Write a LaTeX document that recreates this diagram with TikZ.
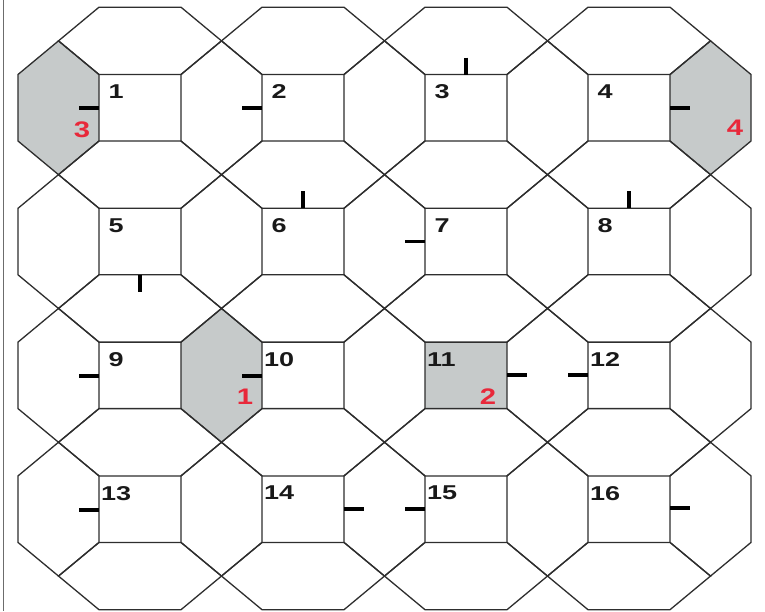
\documentclass[tikz,border=0pt]{standalone}
\usepackage{fontspec}
\setmainfont{Liberation Sans}
\definecolor{edge}{HTML}{2E2E2E}
\definecolor{cellgray}{HTML}{C6CACA}
\definecolor{redlbl}{RGB}{232,40,58}
\begin{document}
\begin{tikzpicture}[x=1pt,y=-1pt,
  grid/.style={draw=edge,line width=1.3pt,line join=miter},
  door/.style={draw=black,line width=3.8pt},
  num/.style={anchor=north west,inner sep=0pt,font=\fontsize{20}{21}\selectfont\bfseries,text=black!90},
  rnum/.style={inner sep=0pt,font=\fontsize{22.5}{23}\selectfont\bfseries,text=redlbl}]
\useasboundingbox (0,0) rectangle (765,611);
\fill[white] (0,0) rectangle (765,611);
% shaded cells
\fill[cellgray] (18,74.5) -- (58.5,40.85) -- (99,74.5) -- (99,141) -- (58.5,174.65) -- (18,141) -- cycle;
\fill[cellgray] (670,74.5) -- (710.5,40.85) -- (751,74.5) -- (751,141) -- (710.5,174.65) -- (670,141) -- cycle;
\fill[cellgray] (181,342.1) -- (221.5,308.45) -- (262,342.1) -- (262,408.6) -- (221.5,442.25) -- (181,408.6) -- cycle;
\fill[cellgray] (425,342.1) rectangle (507,408.6);
% horizontal cells (between columns)
\foreach \c in {0,...,4}{
  \foreach \r in {1,...,4}{
    \pgfmathsetmacro\xa{99+163*(\c-1)+82}
    \pgfmathsetmacro\xb{\xa+81}
    \pgfmathsetmacro\xm{\xa+40.5}
    \pgfmathsetmacro\ya{74.5+133.8*(\r-1)}
    \pgfmathsetmacro\yb{\ya+66.5}
    \draw[grid] (\xa,\ya) -- (\xm,\ya-33.65) -- (\xb,\ya) -- (\xb,\yb) -- (\xm,\yb+33.65) -- (\xa,\yb) -- cycle;
  }
}
% vertical cells (between rows)
\foreach \c in {1,...,4}{
  \foreach \r in {0,...,4}{
    \pgfmathsetmacro\xa{99+163*(\c-1)}
    \pgfmathsetmacro\xb{\xa+82}
    \pgfmathsetmacro\ya{74.5+133.8*(\r-1)+66.5}
    \pgfmathsetmacro\yb{\ya+67.3}
    \draw[grid] (\xa,\ya) -- (\xb,\ya) -- (\xb+40.5,\ya+33.65) -- (\xb,\yb) -- (\xa,\yb) -- (\xa-40.5,\ya+33.65) -- cycle;
  }
}
% left frame line
\draw[draw=gray!85!black,line width=1pt] (3,0) -- (3,611);
% doors
\draw[door] (79,107.75) -- (99,107.75);
\draw[door] (242,107.75) -- (262,107.75);
\draw[door] (466,57.5) -- (466,74.5);
\draw[door] (670,107.75) -- (690,107.75);
\draw[door] (140,274.8) -- (140,292);
\draw[door] (303,191.3) -- (303,208.3);
\draw[door] (405,241.55) -- (425,241.55);
\draw[door] (629,191.3) -- (629,208.3);
\draw[door] (79,376) -- (99,376);
\draw[door] (242,376) -- (262,376);
\draw[door] (507,375) -- (527,375);
\draw[door] (568,375) -- (588,375);
\draw[door] (79,510) -- (99,510);
\draw[door] (344,509.15) -- (364,509.15);
\draw[door] (405,509.15) -- (425,509.15);
\draw[door] (670,508) -- (690,508);
% room numbers
\node[num] (n1) at (108.5,84.5) {\scalebox{1.35}[1]{1}};
\node[num] (n2) at (271.5,84.5) {\scalebox{1.35}[1]{2}};
\node[num] (n3) at (434.5,84.5) {\scalebox{1.35}[1]{3}};
\node[num] (n4) at (597.5,84.5) {\scalebox{1.35}[1]{4}};
\node[num] (n5) at (108.5,218.3) {\scalebox{1.35}[1]{5}};
\node[num] (n6) at (271.5,218.3) {\scalebox{1.35}[1]{6}};
\node[num] (n7) at (434.5,218.3) {\scalebox{1.35}[1]{7}};
\node[num] (n8) at (597.5,218.3) {\scalebox{1.35}[1]{8}};
\node[num] (n9) at (108.5,352.1) {\scalebox{1.35}[1]{9}};
\node[num] (n10) at (264,352.1) {\scalebox{1.35}[1]{10}};
\node[num] (n11) at (427,352.1) {\scalebox{1.35}[1]{11}};
\node[num] (n12) at (590,352.1) {\scalebox{1.35}[1]{12}};
\node[num] (n13) at (101,485.9) {\scalebox{1.35}[1]{13}};
\node[num] (n14) at (264,485.9) {\scalebox{1.35}[1]{14}};
\node[num] (n15) at (427,485.9) {\scalebox{1.35}[1]{15}};
\node[num] (n16) at (590,485.9) {\scalebox{1.35}[1]{16}};
% red markers
\node[rnum] (r3) at (82,130) {\scalebox{1.3}[1]{3}};
\node[rnum] (r4) at (735,128) {\scalebox{1.3}[1]{4}};
\node[rnum] (r1) at (245,397) {\scalebox{1.3}[1]{1}};
\node[rnum] (r2) at (488,397) {\scalebox{1.3}[1]{2}};
\end{tikzpicture}
\end{document}
